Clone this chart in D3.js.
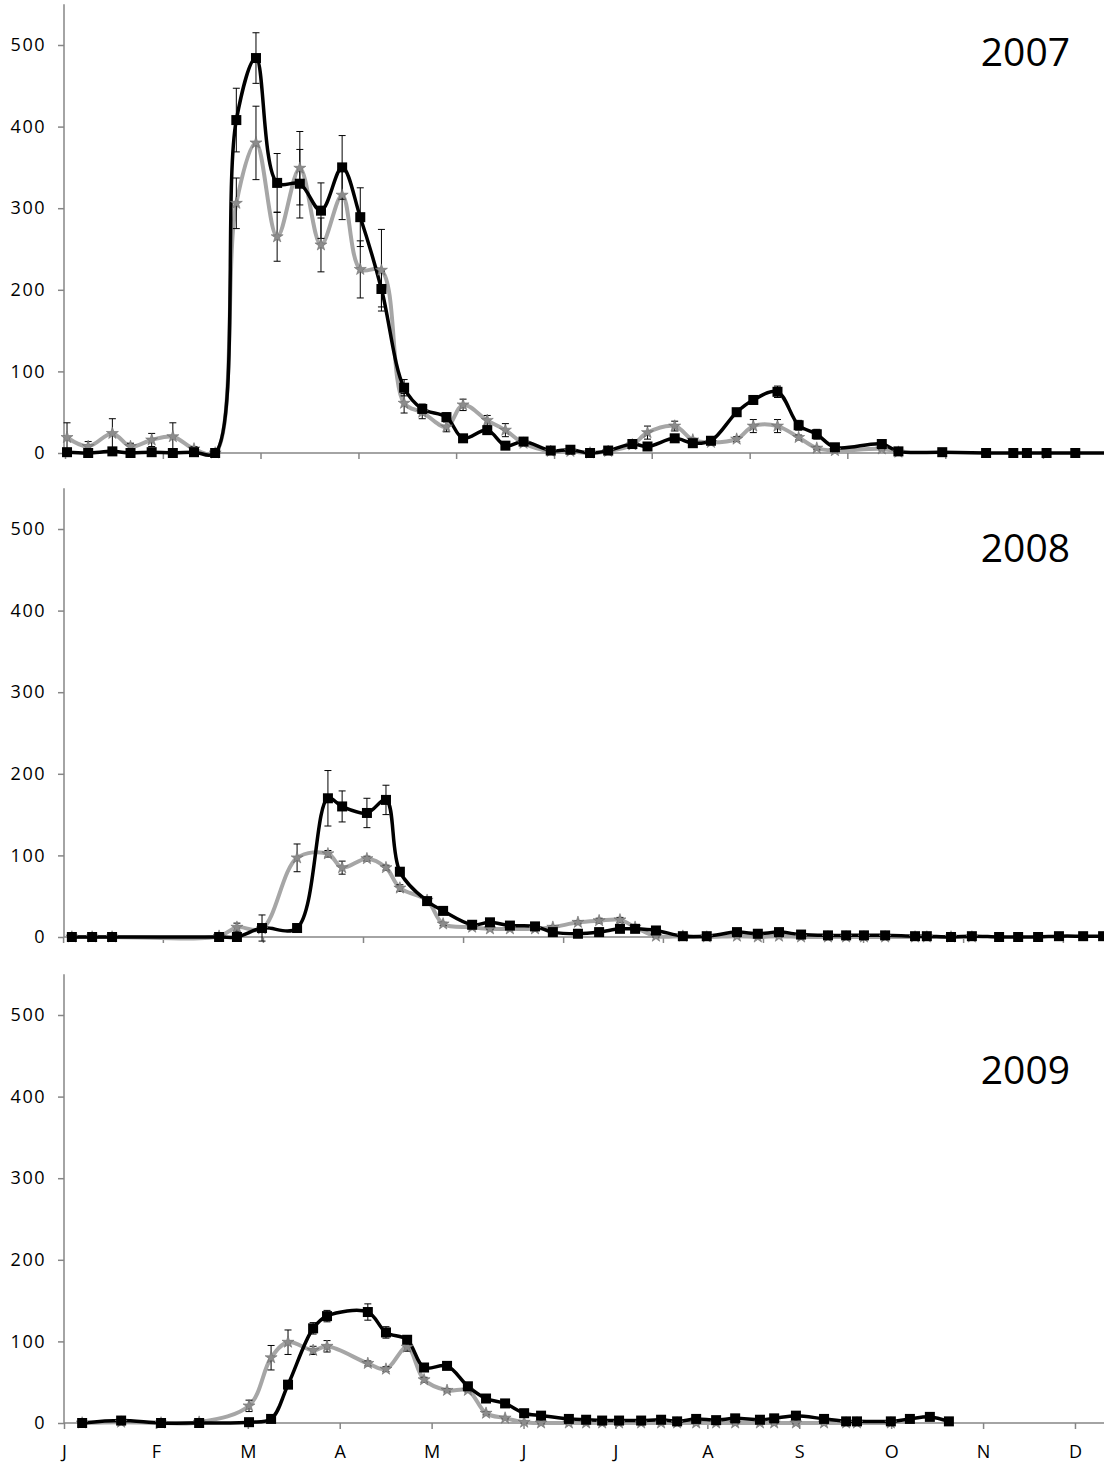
<!DOCTYPE html>
<html>
<head>
<meta charset="utf-8">
<script src="https://cdnjs.cloudflare.com/ajax/libs/d3/7.8.5/d3.min.js"></script>
<style>
  body { margin: 0; background: #fff; }
  text { font-family: "Open Sans", sans-serif; fill: #000; }
</style>
</head>
<body>
<script>

// Data (x = day since 1 Jan, y = count)

// 2007
var days07 = [1, 8, 16, 22, 29, 36, 43, 50, 57, 63.5, 70.5, 78, 85, 92, 98, 105,
  112.5, 118.5, 126.5, 132, 140, 146, 152, 161, 167.5, 174, 180, 188, 193, 202, 208, 214,
  222.5, 228, 236, 243, 249, 255, 270.5, 276, 290.5, 305, 314, 318.5, 325, 334.5, 355]
var black07 = [1, 0, 2, 0, 1, 0, 1, 0, 408, 484, 331, 330, 297, 350, 289, 201,
  80, 54, 44, 18, 28, 9, 14, 3, 4, 0, 3, 11, 8, 18, 12, 15,
  50, 65, 75, 34, 23, 7, 11, 2, 1, 0, 0, 0, 0, 0, 0]
var blackErr07 = [2, 1, 2, 1, 2, 1, 1, 1, 39, 31, 36, 42, 34, 39, 36, 22,
  10, 6, 5, 3, 4, 3, 3, 1, 1, 1, 1, 3, 2, 3, 2, 2,
  4, 5, 7, 6, 6, 2, 2, 1, 1, 1, 1, 1, 1, 1, 0]
var grey07 = [19, 8, 24, 8, 16, 20, 5, 0, 306, 380, 265, 349, 255, 316, 225, 224,
  61, 50, 32, 59, 40, 28, 12, 2, 2, 0, 2, 10, 25, 33, 16, 13,
  17, 33, 33, 19, 6, 3, 5, 1]
var greyErr07 = [18, 6, 18, 4, 8, 17, 3, 1, 31, 45, 30, 45, 33, 30, 35, 50,
  12, 8, 6, 7, 6, 8, 3, 1, 1, 1, 1, 2, 8, 6, 2, 2,
  3, 8, 8, 3, 2, 1, 1, 1]

// 2008
var days08 = [2.6, 9.3, 15.9, 51.3, 57.2, 65.5, 77.1, 87.3, 92, 100.2, 106.5, 111.1, 120.1, 125.4, 135, 140.9,
  147.5, 155.8, 161.7, 170, 177, 183.9, 188.9, 195.8, 204.7, 212.6, 222.6, 229.5, 236.5, 243.8, 252.7, 258.7,
  264.6, 271.6, 281.5, 285.4, 293.4, 300.3, 309.3, 315.6, 322.2, 329.1, 337.1, 343.7]
var black08 = [0, 0, 0, 0, 0, 11, 11, 170, 160, 152, 168, 80, 44, 32, 15, 18,
  14, 13, 6, 4, 6, 10, 10, 8, 1, 1, 6, 4, 6, 3, 2, 2,
  2, 2, 1, 1, 0, 1, 0, 0, 0, 1, 1, 1]
var blackErr08 = [0, 0, 0, 0, 1, 16, 2, 34, 19, 18, 18, 4, 3, 2, 2, 2,
  2, 2, 1, 1, 1, 2, 2, 2, 1, 1, 2, 1, 2, 1, 1, 1,
  1, 1, 1, 1, 1, 1, 1, 1, 1, 1, 1, 1]
var grey08 = [0, 0, 0, 1, 12, 10, 97, 102, 85, 96, 85, 60, 45, 16, 12, 10,
  10, 10, 12, 18, 20, 21, 12, 1, 1, 0, 1, 0, 1, 0, 0, 0,
  0, 0, 0, 0, 0, 0]
var greyErr08 = [0, 0, 0, 1, 5, 2, 17, 4, 8, 3, 3, 4, 3, 2, 2, 1,
  1, 1, 2, 2, 3, 3, 2, 1, 1, 1, 1, 1, 1, 1, 1, 1,
  1, 1, 1, 1, 1, 1]

// 2009
var days09 = [6, 18.9, 32.1, 44.7, 61.2, 68.5, 74.1, 82.4, 87, 100.5, 106.5, 113.5, 119.1, 126.7, 133.6, 139.6,
  145.9, 152.2, 157.8, 167, 172.7, 178, 183.6, 190.9, 197.5, 202.8, 209.1, 215.7, 222, 230.2, 234.9, 242.1,
  251.4, 258.7, 262.3, 273.5, 279.8, 286.4, 292.7]
var black09 = [0, 3, 0, 0, 1, 5, 47, 116, 131, 136, 111, 102, 68, 70, 45, 30,
  24, 12, 9, 5, 4, 3, 3, 3, 4, 2, 5, 3.5, 5.7, 4, 5.7, 9,
  5, 2, 2, 2, 5, 7.5, 2]
var blackErr09 = [0, 1, 0, 0, 1, 2, 3, 7, 7, 10, 7, 4, 3, 2, 2, 2,
  2, 2, 1, 1, 1, 1, 1, 1, 1, 1, 1, 1, 1, 1, 1, 1,
  1, 1, 1, 1, 1, 1, 1]
var grey09 = [0, 1, 0, 1, 21, 80, 99, 89, 94, 73, 66, 93, 53, 40, 40, 12,
  6, 1, 0, 0, 0, 0, 0, 0, 0, 0, 0, 0, 0, 0, 0, 0,
  0, 0, 0, 0]
var greyErr09 = [0, 1, 0, 1, 7, 15, 15, 5, 7, 3, 3, 5, 3, 2, 2, 2,
  1, 1, 1, 1, 1, 1, 1, 1, 1, 1, 1, 1, 1, 1, 1, 1,
  1, 1, 1, 1]

// axis ticks (days)
var ticks07 = [0.33, 32.7, 65, 97.4, 129.7, 162.1, 194.4, 226.8, 259.1, 291.5, 323.8]
var ticks08 = [-0.3, 32.7, 65.8, 98.9, 132, 165.1, 198.1, 231.2, 264.3, 297.4, 330.4]
var ticks09 = [0, 30.4, 60.8, 91.2, 121.6, 152, 182.4, 212.8, 243.2, 273.6, 304, 334.4]
var monthLabels = ['J', 'F', 'M', 'A', 'M', 'J', 'J', 'A', 'S', 'O', 'N', 'D']
var yTicks = [0, 100, 200, 300, 400, 500]

var panels = [
  {year: '2007', zero: 453, days: days07, black: black07, blackErr: blackErr07, grey: grey07, greyErr: greyErr07, ticks: ticks07, yearAt: 474},
  {year: '2008', zero: 937, days: days08, black: black08, blackErr: blackErr08, grey: grey08, greyErr: greyErr08, ticks: ticks08, yearAt: 460},
  {year: '2009', zero: 1423, days: days09, black: black09, blackErr: blackErr09, grey: grey09, greyErr: greyErr09, ticks: ticks09, yearAt: 415, labels: monthLabels}
]

var width = 1104, height = 1467
var axisGrey = '#868686'

var svg = d3.select('body').append('svg')
  .attr('width', width)
  .attr('height', height)

var xScale = d3.scaleLinear().domain([0, 344]).range([64, 1104])

panels.forEach(function(p) {
  var yScale = d3.scaleLinear().domain([0, 550]).range([p.zero, p.zero - 550 * 0.816])
  var g = svg.append('g')

  // y axis
  var yAxis = d3.axisLeft(yScale).tickValues(yTicks).tickSize(6).tickPadding(12)
  var ya = g.append('g').attr('transform', 'translate(' + xScale(0) + ',0)').call(yAxis)
  ya.select('.domain').attr('d', 'M0,' + yScale(0) + 'V' + yScale(550))
  ya.selectAll('path, line').attr('stroke', axisGrey).attr('stroke-width', 1.5)
  ya.selectAll('text').style('font-size', '18px').style('letter-spacing', '1.5px')
    .style('font-family', '"Open Sans", sans-serif').attr('fill', '#000')

  // x axis
  var xAxis = d3.axisBottom(xScale).tickValues(p.ticks).tickSize(6).tickPadding(16)
    .tickFormat(function(d, i) { return p.labels ? p.labels[i] : '' })
  var xa = g.append('g').attr('transform', 'translate(0,' + yScale(0) + ')').call(xAxis)
  xa.select('.domain').attr('d', 'M' + xScale(0) + ',0H' + width)
  xa.selectAll('path, line').attr('stroke', axisGrey).attr('stroke-width', 1.5)
  xa.selectAll('text').style('font-size', '18px')
    .style('font-family', '"Open Sans", sans-serif').attr('fill', '#000')

  var blackPts = p.days.map(function(d, i) { return {d: d, v: p.black[i], e: p.blackErr[i]} })
  var greyPts = p.grey.map(function(v, i) { return {d: p.days[i], v: v, e: p.greyErr[i]} })

  var lineGenerator = d3.line()
    .x(function(d) { return xScale(d.d) })
    .y(function(d) { return yScale(d.v) })
    .curve(d3.curveCatmullRom.alpha(0.5))

  // grey series
  g.append('path').datum(greyPts)
    .attr('d', lineGenerator)
    .attr('fill', 'none')
    .attr('stroke', '#a6a6a6')
    .attr('stroke-width', 4)

  // black series
  g.append('path').datum(blackPts)
    .attr('d', lineGenerator)
    .attr('fill', 'none')
    .attr('stroke', '#000')
    .attr('stroke-width', 3.5)

  // error bars
  function errorBars(pts) {
    var eb = g.append('g').selectAll('g').data(pts.filter(function(d) { return d.e > 0 }))
      .enter().append('g')
      .attr('stroke', '#000').attr('stroke-width', 1)
    eb.append('line')
      .attr('x1', function(d) { return xScale(d.d) }).attr('x2', function(d) { return xScale(d.d) })
      .attr('y1', function(d) { return yScale(d.v + d.e) }).attr('y2', function(d) { return yScale(d.v - d.e) })
    eb.append('line')
      .attr('x1', function(d) { return xScale(d.d) - 3.5 }).attr('x2', function(d) { return xScale(d.d) + 3.5 })
      .attr('y1', function(d) { return yScale(d.v + d.e) }).attr('y2', function(d) { return yScale(d.v + d.e) })
    eb.append('line')
      .attr('x1', function(d) { return xScale(d.d) - 3.5 }).attr('x2', function(d) { return xScale(d.d) + 3.5 })
      .attr('y1', function(d) { return yScale(d.v - d.e) }).attr('y2', function(d) { return yScale(d.v - d.e) })
  }
  errorBars(greyPts)
  errorBars(blackPts)

  // markers
  g.append('g').selectAll('path').data(greyPts).enter().append('path')
    .attr('d', d3.symbol().type(d3.symbolStar).size(45))
    .attr('transform', function(d) { return 'translate(' + xScale(d.d) + ',' + yScale(d.v) + ')' })
    .attr('fill', '#8c8c8c')
    .attr('stroke', '#6f6f6f')
    .attr('stroke-width', 0.6)

  g.append('g').selectAll('rect').data(blackPts).enter().append('rect')
    .attr('x', function(d) { return xScale(d.d) - 5 })
    .attr('y', function(d) { return yScale(d.v) - 5 })
    .attr('width', 10)
    .attr('height', 10)
    .attr('fill', '#000')

  // year label
  g.append('text')
    .attr('x', 1070)
    .attr('y', yScale(p.yearAt))
    .attr('text-anchor', 'end')
    .style('font-size', '39px')
    .text(p.year)
})

</script>
</body>
</html>
